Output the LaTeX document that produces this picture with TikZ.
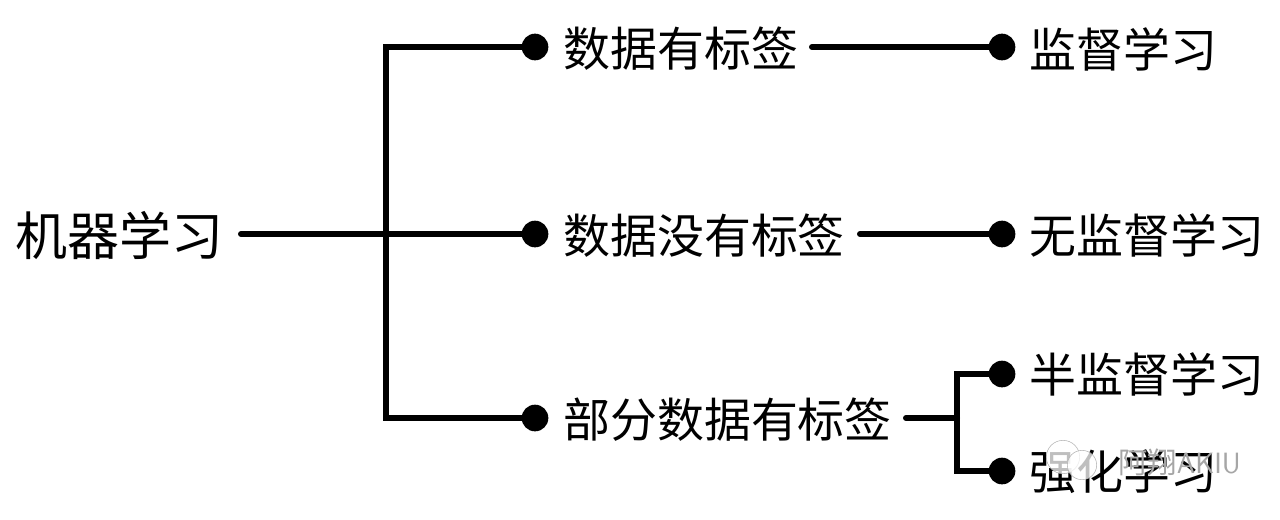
\documentclass[tikz,border=0pt]{standalone}
\usepackage{fontspec}
\newfontfamily\cjk{Noto Sans CJK SC}
\usetikzlibrary{positioning}
\tikzset{
    lbl/.style={font=\cjk\fontsize{35.2pt}{35.2pt}\selectfont, anchor=west, inner sep=0pt, text=black},
    rootlbl/.style={lbl, font=\cjk\fontsize{39pt}{39pt}\selectfont},
    mark lbl/.style={font=\sffamily\fontsize{22pt}{22pt}\selectfont, anchor=west, inner sep=0pt, text=gray!70},
    bubble/.style={circle, draw=gray!60, line width=0.4pt, fill=white, fill opacity=0.75, inner sep=0pt},
    dot/.style={circle, fill=black, inner sep=0pt, minimum size=20pt},
    conn/.style={line width=4.5pt, black, line cap=round}
}
\begin{document}
\begin{tikzpicture}[x=0.75pt, y=-0.75pt]
    \useasboundingbox (0,0) rectangle (1280,519);
    % Root
    \node[rootlbl] (root) at (15,235) {机器学习};
    \coordinate (rootend) at (241,234);
    \coordinate (trunktop) at (386,47);
    \coordinate (trunkbot) at (386,418);

    % Middle level
    \node[dot] (d1) at (535,47) {};
    \node[dot] (d2) at (535,234) {};
    \node[dot] (d3) at (535,418) {};
    \node[lbl] (m1) at (563,49) {数据有标签};
    \node[lbl] (m2) at (563,236) {数据没有标签};
    \node[lbl] (m3) at (563,420) {部分数据有标签};

    % Right level
    \node[dot] (r1) at (1002,47) {};
    \node[dot] (r2) at (1002,234) {};
    \node[dot] (r3) at (1002,374) {};
    \node[dot] (r4) at (1002,471) {};
    \node[lbl] (t1) at (1029,49) {监督学习};
    \node[lbl] (t2) at (1029,235) {无监督学习};
    \node[lbl] (t3) at (1029,374) {半监督学习};
    \node[lbl] (t4) at (1029,472) {强化学习};

    % Connectors
    \draw[conn] (rootend) -- (d2.center);
    \draw[conn, line join=miter] (d1.center) -- (trunktop) -- (trunkbot) -- (d3.center);
    \coordinate (e1) at (812,47);
    \coordinate (e2) at (860,234);
    \coordinate (e3) at (906,418);
    \coordinate (fork) at (957,418);
    \draw[conn] (e1) -- (r1.center);
    \draw[conn] (e2) -- (r2.center);
    \draw[conn] (e3) -- (fork);
    \draw[conn, line join=miter] (r3.center) -| (fork) |- (r4.center);

    % Watermark
    \node[bubble, minimum size=25pt] (bub1) at (1063,457) {};
    \node[bubble, minimum size=22pt] (bub2) at (1082,465) {};
    \node[mark lbl] (wm) at (1118,462) {\cjk 阿翔\sffamily AKIU};
\end{tikzpicture}
\end{document}
